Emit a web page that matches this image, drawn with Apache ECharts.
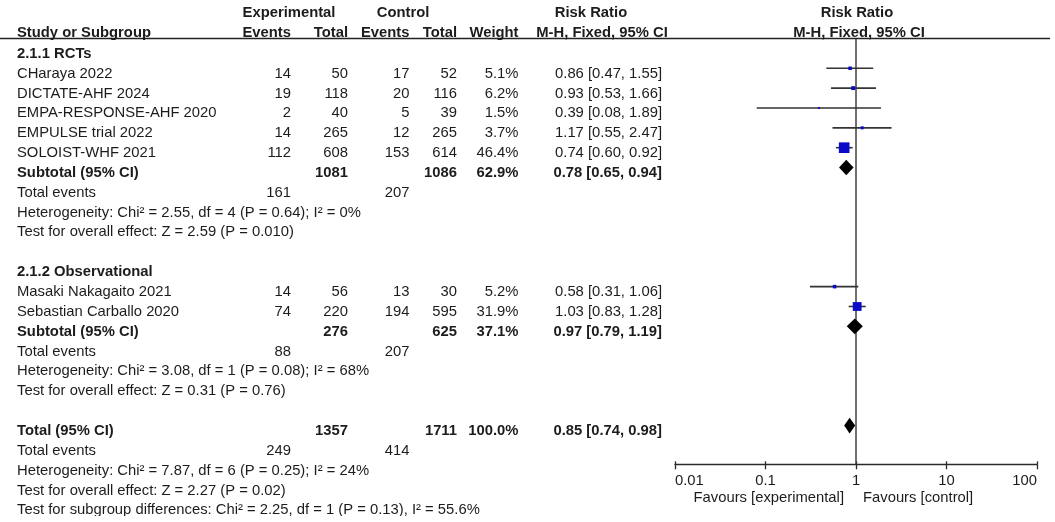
<!DOCTYPE html>
<html><head><meta charset="utf-8">
<script src="https://cdn.jsdelivr.net/npm/echarts@6/dist/echarts.min.js"></script>
<style>html,body{margin:0;padding:0;background:#fff}#c{width:1055px;height:522px}</style>
</head><body><div id="c"></div>
<script>
// ---------- data ----------
const studies   = ['CHaraya 2022','DICTATE-AHF 2024','EMPA-RESPONSE-AHF 2020','EMPULSE trial 2022','SOLOIST-WHF 2021','Masaki Nakagaito 2021','Sebastian Carballo 2020'];
const studyRow  = [1,2,3,4,5,12,13];
const expEvents = [14,19,2,14,112,14,74];
const expTotal  = [50,118,40,265,608,56,220];
const ctlEvents = [17,20,5,12,153,13,194];
const ctlTotal  = [52,116,39,265,614,30,595];
const weights   = [5.1,6.2,1.5,3.7,46.4,5.2,31.9];
const rr        = [0.86,0.93,0.39,1.17,0.74,0.58,1.03];
const rrLo      = [0.47,0.53,0.08,0.55,0.60,0.31,0.83];
const rrHi      = [1.55,1.66,1.89,2.47,0.92,1.06,1.28];

const groupNames = ['2.1.1 RCTs','2.1.2 Observational'];
const groupRow   = [0,11];

const poolNames    = ['Subtotal (95% CI)','Subtotal (95% CI)','Total (95% CI)'];
const poolRow      = [6,14,19];
const poolExpTotal = [1081,276,1357];
const poolCtlTotal = [1086,625,1711];
const poolWeight   = [62.9,37.1,100.0];
const poolRR       = [0.78,0.97,0.85];
const poolLo       = [0.65,0.79,0.74];
const poolHi       = [0.94,1.19,0.98];

const evRow = [7,15,20];
const evExp = [161,88,249];
const evCtl = [207,207,414];

const statRow  = [8,9,16,17,21,22,23];
const statText = [
  'Heterogeneity: Chi² = 2.55, df = 4 (P = 0.64); I² = 0%',
  'Test for overall effect: Z = 2.59 (P = 0.010)',
  'Heterogeneity: Chi² = 3.08, df = 1 (P = 0.08); I² = 68%',
  'Test for overall effect: Z = 0.31 (P = 0.76)',
  'Heterogeneity: Chi² = 7.87, df = 6 (P = 0.25); I² = 24%',
  'Test for overall effect: Z = 2.27 (P = 0.02)',
  'Test for subgroup differences: Chi² = 2.25, df = 1 (P = 0.13), I² = 55.6%'
];

const tickValues = [0.01,0.1,1,10,100];
const tickLabels = ['0.01','0.1','1','10','100'];
const favLeft  = 'Favours [experimental]';
const favRight = 'Favours [control]';

// ---------- layout ----------
const Y_MIN = -0.5, Y_MAX = 20.95;
const FONT = '"Liberation Sans", Arial, Helvetica, sans-serif';
const FS = 14.8;
const TXT = '#1c1c1c';
const TEXT_DY = 5.3;

const chart = echarts.init(document.getElementById('c'), null, {renderer:'canvas'});

const studyData = studies.map((s,i)=>[rr[i], rrLo[i], rrHi[i], studyRow[i], weights[i]]);
const poolData  = poolNames.map((s,i)=>[poolRR[i], poolLo[i], poolHi[i], poolRow[i]]);

function tickFmt(v){
  let best = 0, bd = Infinity;
  tickValues.forEach((t,i)=>{ const d = Math.abs(Math.log10(t)-Math.log10(v)); if(d<bd){bd=d;best=i;} });
  return bd < 1e-6 ? tickLabels[best] : '';
}

chart.setOption({
  animation:false,
  grid:{left:675, right:18, top:38.5, bottom:57.7, containLabel:false},
  xAxis:[
    {type:'log', logBase:10, min:tickValues[0], max:tickValues[tickValues.length-1], position:'bottom',
     axisLine:{show:true, onZero:false, lineStyle:{color:'#2a2a2a', width:1.3}},
     axisTick:{show:true, inside:false, length:5, lineStyle:{color:'#2a2a2a', width:1.3}},
     axisLabel:{show:true, margin:9, color:TXT, fontSize:FS, fontFamily:FONT, formatter:tickFmt,
                alignMinLabel:'left', alignMaxLabel:'right'},
     splitLine:{show:false}, minorTick:{show:false}},
    {type:'log', logBase:10, min:tickValues[0], max:tickValues[tickValues.length-1], position:'bottom', offset:0,
     axisLine:{show:false, onZero:false},
     axisTick:{show:true, inside:true, length:3, lineStyle:{color:'#2a2a2a', width:1.3}},
     axisLabel:{show:false}, splitLine:{show:false}}
  ],
  yAxis:{type:'value', min:Y_MIN, max:Y_MAX, inverse:true, show:false, splitLine:{show:false}},
  series:[
    {type:'line', xAxisIndex:0, data:[[1,Y_MIN],[1,Y_MAX]], symbol:'none', silent:true,
     lineStyle:{color:'#404040', width:1.5}, z:1},
    {type:'custom', xAxisIndex:0, data:studyData, encode:{x:[0,1,2], y:3}, z:3,
     renderItem(params, api){
       const y = api.value(3);
       const c = api.coord([api.value(0), y]);
       const l = api.coord([api.value(1), y]);
       const h = api.coord([api.value(2), y]);
       const s = 1.56*Math.sqrt(api.value(4));
       return {type:'group', children:[
         {type:'line', shape:{x1:l[0], y1:l[1], x2:h[0], y2:h[1]}, style:{stroke:'#333', lineWidth:1.6}},
         {type:'rect', shape:{x:c[0]-s/2, y:c[1]-s/2, width:s, height:s}, style:{fill:'#0a0ac8'}}
       ]};
     }},
    {type:'custom', xAxisIndex:0, data:poolData, encode:{x:[0,1,2], y:3}, z:3,
     renderItem(params, api){
       const y = api.value(3);
       const c = api.coord([api.value(0), y]);
       const l = api.coord([api.value(1), y]);
       const h = api.coord([api.value(2), y]);
       const hh = 7.8;
       return {type:'polygon', shape:{points:[l,[c[0],c[1]-hh],h,[c[0],c[1]+hh]]}, style:{fill:'#000'}};
     }}
  ]
});

// ---------- table text ----------
const rowY = r => chart.convertToPixel({yAxisIndex:0}, r) + TEXT_DY;
const xOne = chart.convertToPixel({xAxisIndex:0}, 1);
const g = [];
function T(text, x, y, align, bold){
  g.push({type:'text', x:x, y:y, silent:true, z:10,
    style:{text:String(text), x:0, y:0, fill:TXT,
      font:(bold?'bold ':'normal ')+FS+'px '+FONT,
      textAlign:align, textVerticalAlign:'middle', align:align, verticalAlign:'middle'}});
}
const X_NAME=17, X_EE=291, X_ET=348, X_CE=409.5, X_CT=457, X_W=518.5, X_RR=662;
const pct = v => v.toFixed(1)+'%';
const ci = (a,b,c) => a.toFixed(2)+' ['+b.toFixed(2)+', '+c.toFixed(2)+']';

// headers
const h1 = rowY(-2)-1, h2 = rowY(-1)-1;
T('Experimental', 289, h1, 'center', true);
T('Control', 403, h1, 'center', true);
T('Risk Ratio', 591, h1, 'center', true);
T('Risk Ratio', xOne+1, h1, 'center', true);
T('Study or Subgroup', X_NAME, h2, 'left', true);
T('Events', X_EE, h2, 'right', true);
T('Total', X_ET, h2, 'right', true);
T('Events', X_CE, h2, 'right', true);
T('Total', X_CT, h2, 'right', true);
T('Weight', X_W, h2, 'right', true);
T('M-H, Fixed, 95% CI', 602, h2, 'center', true);
T('M-H, Fixed, 95% CI', xOne+3, h2, 'center', true);

groupNames.forEach((n,i)=>T(n, X_NAME, rowY(groupRow[i]), 'left', true));
studies.forEach((n,i)=>{
  const y = rowY(studyRow[i]);
  T(n, X_NAME, y, 'left', false);
  T(expEvents[i], X_EE, y, 'right', false);
  T(expTotal[i], X_ET, y, 'right', false);
  T(ctlEvents[i], X_CE, y, 'right', false);
  T(ctlTotal[i], X_CT, y, 'right', false);
  T(pct(weights[i]), X_W, y, 'right', false);
  T(ci(rr[i],rrLo[i],rrHi[i]), X_RR, y, 'right', false);
});
poolNames.forEach((n,i)=>{
  const y = rowY(poolRow[i]);
  T(n, X_NAME, y, 'left', true);
  T(poolExpTotal[i], X_ET, y, 'right', true);
  T(poolCtlTotal[i], X_CT, y, 'right', true);
  T(pct(poolWeight[i]), X_W, y, 'right', true);
  T(ci(poolRR[i],poolLo[i],poolHi[i]), X_RR, y, 'right', true);
});
evRow.forEach((r,i)=>{
  const y = rowY(r);
  T('Total events', X_NAME, y, 'left', false);
  T(evExp[i], X_EE, y, 'right', false);
  T(evCtl[i], X_CE, y, 'right', false);
});
statRow.forEach((r,i)=>T(statText[i], X_NAME, rowY(r), 'left', false));

// favours labels
const axisY = chart.convertToPixel({yAxisIndex:0}, Y_MAX);
T(favLeft, xOne-12, axisY+34, 'right', false);
T(favRight, xOne+7, axisY+34, 'left', false);

// header rule
g.push({type:'line', silent:true, z:5, shape:{x1:0, y1:38.5, x2:1050, y2:38.5}, style:{stroke:'#222', lineWidth:1.4}});
// bottom crop of last line (as in the source image)
g.push({type:'rect', silent:true, z:20, shape:{x:0, y:516, width:665, height:10}, style:{fill:'#fff'}});

chart.setOption({graphic:g});
</script>
</body></html>
